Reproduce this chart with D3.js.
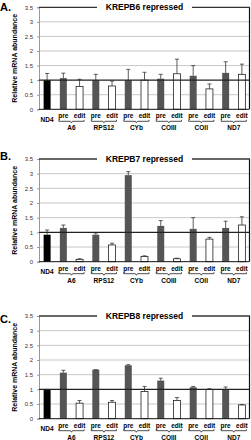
<!DOCTYPE html>
<html>
<head>
<meta charset="utf-8">
<script src="https://cdn.jsdelivr.net/npm/d3@7"></script>
<style>
body { margin: 0; background: #fff; }
svg { display: block; font-family: Arial, "Liberation Sans", sans-serif; }
</style>
</head>
<body>
<script>
// categories
let genes = ["A6", "RPS12", "CYb", "COIII", "COII", "ND7"]
let categories = ["ND4", "A6 pre", "A6 edit", "RPS12 pre", "RPS12 edit", "CYb pre", "CYb edit",
                  "COIII pre", "COIII edit", "COII pre", "COII edit", "ND7 pre", "ND7 edit"]
let yTicks = [0, 0.5, 1, 1.5, 2, 2.5, 3, 3.5]

// panel titles
let letters = ["A.", "B.", "C."]
let titles = ["KREPB6 repressed", "KREPB7 repressed", "KREPB8 repressed"]

// values (bar height) and top of error bar
let valuesA = [1.0, 1.07, 0.78, 1.0, 0.8, 1.0, 1.0, 1.05, 1.22, 1.15, 0.7, 1.25, 1.2]
let errTopA = [1.23, 1.24, 1.03, 1.2, 0.97, 1.37, 1.27, 1.2, 1.72, 1.5, 0.87, 1.63, 1.55]
let valuesB = [0.92, 1.15, 0.08, 0.92, 0.57, 2.95, 0.18, 1.22, 0.1, 1.12, 0.77, 1.15, 1.25]
let errTopB = [1.08, 1.25, 0.1, 0.98, 0.63, 3.07, 0.2, 1.4, 0.12, 1.5, 0.83, 1.38, 1.53]
let valuesC = [1.0, 1.57, 0.53, 1.67, 0.56, 1.82, 0.93, 1.3, 0.62, 1.07, 1.0, 1.0, 0.47]
let errTopC = [1.0, 1.65, 0.62, 1.67, 0.62, 1.84, 1.1, 1.38, 0.72, 1.1, 1.02, 1.08, 0.48]

let panels = [
    {values: valuesA, err: errTopA, top: 7.3, bottom: 109.3, letterY: 11},
    {values: valuesB, err: errTopB, top: 159, bottom: 261.7, letterY: 160},
    {values: valuesC, err: errTopC, top: 316, bottom: 418.7, letterY: 323}
]

let svg = d3.select("body").append("svg")
    .attr("width", 251)
    .attr("height", 440)

let x = d3.scaleBand().domain(categories).range([39, 250]).paddingInner(0.57).paddingOuter(0.285)

function barColor(c) {
    if (c == "ND4") return "#000"
    if (c.endsWith("pre")) return "#555"
    return "#fff"
}

panels.forEach((p, i) => {
    let y = d3.scaleLinear().domain([0, 3.5]).range([p.bottom, p.top])
    let g = svg.append("g")

    // grid lines
    g.append("g").selectAll("line")
        .data(yTicks.filter(t => t > 0 && t < 3.5 && t != 1))
        .join("line")
        .attr("x1", 39).attr("x2", 249)
        .attr("y1", d => y(d)).attr("y2", d => y(d))
        .style("stroke", "#c8c8c8").style("stroke-width", 1)

    // left axis with tick labels
    let axis = g.append("g")
        .attr("transform", "translate(39,0)")
        .call(d3.axisLeft(y).tickValues(yTicks).tickSize(2).tickFormat(d3.format("")))
    axis.select(".domain").style("stroke", "#999")
    axis.selectAll(".tick line").style("stroke", "#999")
    axis.selectAll("text").style("font-size", "6px").style("fill", "#333")
        .attr("x", -6).style("font-family", "Arial, 'Liberation Sans', sans-serif")

    // bars
    g.append("g").selectAll("rect")
        .data(p.values)
        .join("rect")
        .attr("x", (d, j) => x(categories[j]))
        .attr("width", x.bandwidth())
        .attr("y", d => y(d))
        .attr("height", d => y(0) - y(d))
        .style("fill", (d, j) => barColor(categories[j]))
        .style("stroke", (d, j) => barColor(categories[j]) == "#fff" ? "#222" : "none")
        .style("stroke-width", 0.8)

    // error bars (upper only)
    let eb = g.append("g").selectAll("g")
        .data(p.err)
        .join("g")
    eb.append("line")
        .attr("x1", (d, j) => x(categories[j]) + x.bandwidth() / 2)
        .attr("x2", (d, j) => x(categories[j]) + x.bandwidth() / 2)
        .attr("y1", (d, j) => y(p.values[j]))
        .attr("y2", d => y(d))
        .style("stroke", "#333").style("stroke-width", 0.8)
    eb.append("line")
        .attr("x1", (d, j) => x(categories[j]) + x.bandwidth() / 2 - 2)
        .attr("x2", (d, j) => x(categories[j]) + x.bandwidth() / 2 + 2)
        .attr("y1", d => y(d))
        .attr("y2", d => y(d))
        .style("stroke", "#333").style("stroke-width", 0.8)

    // reference line at 1 and baseline
    g.append("line")
        .attr("x1", 39).attr("x2", 249)
        .attr("y1", y(1)).attr("y2", y(1))
        .style("stroke", "#222").style("stroke-width", 1.1)
    g.append("line")
        .attr("x1", 39).attr("x2", 249)
        .attr("y1", y(0)).attr("y2", y(0))
        .style("stroke", "#111").style("stroke-width", 1)

    // right border
    g.append("line")
        .attr("x1", 249.5).attr("x2", 249.5)
        .attr("y1", y(3.5)).attr("y2", y(0))
        .style("stroke", "#111").style("stroke-width", 1.2)

    // top line with title gap
    g.append("line")
        .attr("x1", 39).attr("x2", 97)
        .attr("y1", y(3.5)).attr("y2", y(3.5))
        .style("stroke", "#333").style("stroke-width", 1.3)
    g.append("line")
        .attr("x1", 192).attr("x2", 250)
        .attr("y1", y(3.5)).attr("y2", y(3.5))
        .style("stroke", "#333").style("stroke-width", 1.3)
    g.append("text")
        .attr("x", 144.5).attr("y", y(3.5) + 3)
        .attr("text-anchor", "middle")
        .style("font-size", "8.5px").style("font-weight", "bold")
        .text(titles[i])

    // panel letter
    g.append("text")
        .attr("x", 0).attr("y", p.letterY)
        .style("font-size", "11px").style("font-weight", "bold")
        .text(letters[i])

    // y axis title
    g.append("text")
        .attr("transform", "translate(17," + ((p.top + p.bottom) / 2) + ") rotate(-90)")
        .attr("text-anchor", "middle")
        .style("font-size", "7px").style("font-weight", "bold")
        .text("Relative mRNA abundance")

    // x labels
    g.append("text")
        .attr("x", x("ND4") + x.bandwidth() / 2).attr("y", y(0) + 12.5)
        .attr("text-anchor", "middle")
        .style("font-size", "6.5px").style("font-weight", "bold")
        .text("ND4")

    let gl = g.append("g").selectAll("g")
        .data(genes)
        .join("g")
    gl.append("text")
        .attr("x", d => x(d + " pre") + x.bandwidth() / 2).attr("y", y(0) + 9)
        .attr("text-anchor", "middle")
        .style("font-size", "6.5px").style("font-weight", "bold")
        .text("pre")
    gl.append("text")
        .attr("x", d => x(d + " edit") + x.bandwidth() / 2).attr("y", y(0) + 9)
        .attr("text-anchor", "middle")
        .style("font-size", "6.5px").style("font-weight", "bold")
        .text("edit")
    gl.append("path")
        .attr("d", d => {
            let x1 = x(d + " pre") - 1
            let x2 = x(d + " edit") + x.bandwidth() + 1
            let xm = (x1 + x2) / 2
            let yb = y(0) + 12
            return "M" + x1 + "," + (yb - 1.5) + "L" + x1 + "," + yb + "L" + (xm - 1) + "," + yb +
                   "L" + xm + "," + (yb + 1.5) + "L" + (xm + 1) + "," + yb + "L" + x2 + "," + yb +
                   "L" + x2 + "," + (yb - 1.5)
        })
        .style("fill", "none").style("stroke", "#222").style("stroke-width", 0.8)
    gl.append("text")
        .attr("x", d => (x(d + " pre") + x(d + " edit") + x.bandwidth()) / 2).attr("y", y(0) + 21)
        .attr("text-anchor", "middle")
        .style("font-size", "6.5px").style("font-weight", "bold")
        .text(d => d)
})
</script>
</body>
</html>
